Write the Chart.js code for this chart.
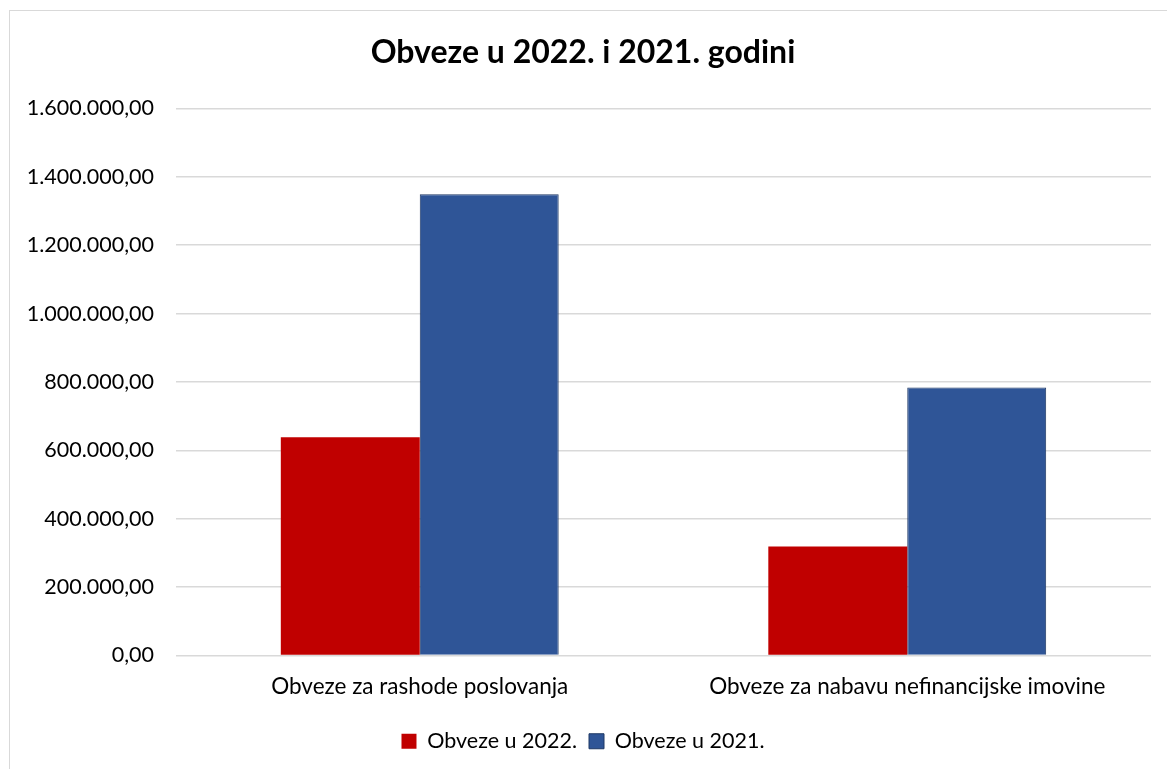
<!DOCTYPE html>
<html>
<head>
<meta charset="utf-8">
<script src="https://cdn.jsdelivr.net/npm/chart.js@4/dist/chart.umd.min.js"></script>
<style>
  html, body { margin: 0; padding: 0; background: #fff; overflow: hidden; }
  #frame { position: absolute; left: 9px; top: 10px; width: 1170px; height: 790px; border: 1px solid #d9d9d9; }
  #wrap { position: absolute; left: 0; top: 0; width: 1167px; height: 780px; }
</style>
</head>
<body>
<div id="frame"></div>
<div id="wrap"><canvas id="chart"></canvas></div>
<script>
const categories = ["Obveze za rashode poslovanja", "Obveze za nabavu nefinancijske imovine"];
const seriesNames = ["Obveze u 2022.", "Obveze u 2021."];
const values2022 = [638000, 319000];
const values2021 = [1349000, 784000];
const yMax = 1600000;
const yStep = 200000;

const fontName = "Lato, 'Open Sans', 'Liberation Sans', sans-serif";

function formatHr(v) {
    let parts = v.toFixed(2).split('.');
    let intPart = parts[0].replace(/\B(?=(\d{3})+(?!\d))/g, '.');
    return intPart + ',' + parts[1];
}

let ctx = document.getElementById('chart').getContext('2d');
let config = {
    type: 'bar',
    data: {
        labels: categories,
        datasets: [{
            label: seriesNames[0],
            data: values2022,
            backgroundColor: '#c00000',
            borderColor: '#c00000',
            borderWidth: 0,
            categoryPercentage: 0.57,
            barPercentage: 1.0
        }, {
            label: seriesNames[1],
            data: values2021,
            backgroundColor: '#2f5597',
            borderColor: '#1f3864',
            borderWidth: 1,
            categoryPercentage: 0.57,
            barPercentage: 1.0
        }]
    },
    options: {
        responsive: true,
        maintainAspectRatio: false,
        animation: false,
        layout: {
            padding: { left: 15, right: 16, top: 0, bottom: 18 }
        },
        plugins: {
            title: {
                display: true,
                text: 'Obveze u 2022. i 2021. godini',
                color: '#000',
                font: { family: fontName, size: 32, weight: 'bold' },
                padding: { top: 33, bottom: 37 }
            },
            legend: {
                position: 'bottom',
                labels: {
                    color: '#000',
                    font: { family: fontName, size: 21.5 },
                    boxWidth: 15,
                    boxHeight: 15,
                    padding: 12
                }
            },
            tooltip: { enabled: false }
        },
        scales: {
            x: {
                grid: { display: false, drawTicks: false },
                border: { display: false },
                ticks: {
                    color: '#000',
                    font: { family: fontName, size: 22.5 },
                    padding: 18
                }
            },
            y: {
                min: 0,
                max: yMax,
                border: { display: false },
                grid: { color: '#d9d9d9', lineWidth: 1.5, drawTicks: false },
                afterFit: (scale) => { scale.width = 161; },
                ticks: {
                    stepSize: yStep,
                    color: '#000',
                    font: { family: fontName, size: 21.5 },
                    padding: 22,
                    callback: (v) => formatHr(v)
                }
            }
        }
    }
};

let chart = new Chart(ctx, config);
</script>
</body>
</html>
